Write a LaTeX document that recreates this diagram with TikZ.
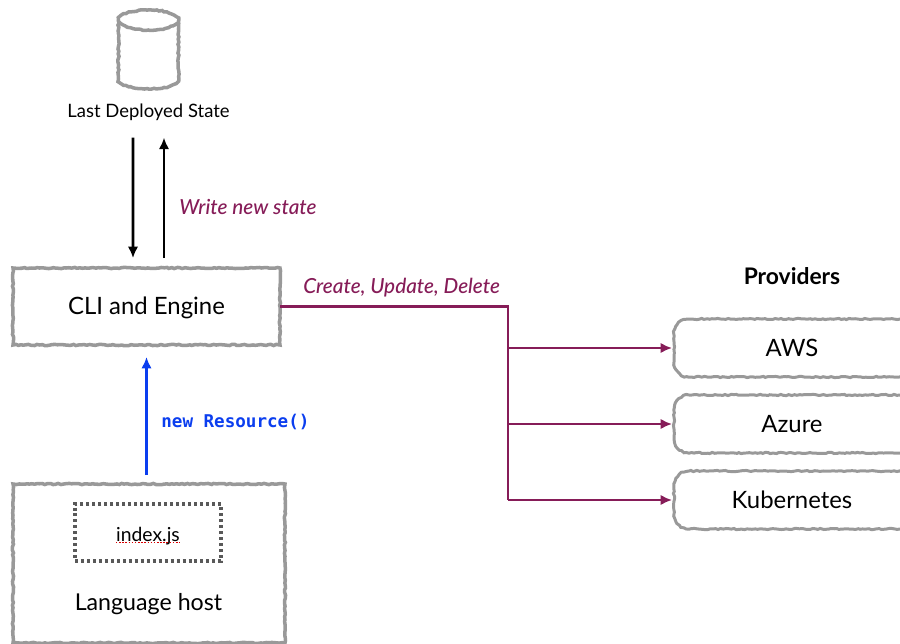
\documentclass[tikz,border=0pt]{standalone}
\usepackage{xcolor}
\usepackage{fontspec}
\setmainfont{Lato}
\setmonofont{DejaVu Sans Mono}
\newfontfamily\mediumfont{Lato Medium}
\usetikzlibrary{arrows.meta,decorations.pathmorphing}
\definecolor{plumline}{HTML}{861C58}
\definecolor{blueline}{HTML}{0B3EEF}
\tikzset{
  sketchy/.style={draw=black!40,line width=2pt,decorate,decoration={random steps,segment length=1.5pt,amplitude=.35pt},inner sep=0pt,outer sep=0pt},
  plainbox/.style={sketchy,text height=11.5pt,text depth=2.5pt,font=\fontsize{13.6}{15}\selectfont},
  dotbox/.style={draw=black!65,line width=2.3pt,dash pattern=on 1.7pt off 1.7pt,inner sep=0pt},
  provider/.style={inner sep=0pt,outer sep=0pt,minimum width=4.72cm,minimum height=1.16cm,font=\fontsize{13.6}{15}\selectfont},
  caption/.style={inner sep=0pt,font=\fontsize{13.2}{15}\selectfont},
  smallcaption/.style={inner sep=0pt,font=\fontsize{10.5}{12}\selectfont},
  plumtext/.style={inner sep=0pt,text=plumline,font=\fontsize{11.8}{14}\mediumfont\itshape},
  plumwire/.style={draw=plumline,line width=1.5pt},
  plumarrow/.style={plumwire,-{Latex[length=6.5pt,width=6pt]}},
  blackarrow/.style={black,line width=1.5pt,-{Latex[length=6.5pt,width=6pt]}},
  bluearrow/.style={draw=blueline,line width=1.5pt,-{Latex[length=6.5pt,width=6pt]}}
}
% outline of a provider, open on the right
\newcommand{\roughoutline}[1]{
  \draw[sketchy,line width=1.7pt] (#1.north east) -- ([xshift=.3cm]#1.north west) arc[start angle=90,end angle=180,radius=.3cm]
    -- ([yshift=.3cm]#1.south west) arc[start angle=180,end angle=270,radius=.3cm] -- (#1.south east);
}
\begin{document}
\begin{tikzpicture}
      \useasboundingbox (0,0) rectangle (18,12.86);
        % Cylinder
      \draw[sketchy] (2.37,12.46) arc[start angle=180,end angle=-180,x radius=.6,y radius=.2]
        -- (2.37,11.28) arc[start angle=180,end angle=360,x radius=.6,y radius=.2] -- (3.57,12.46);
      \node[smallcaption] (state) at (2.97,10.62) {Last Deployed State};
      \node[plainbox,minimum width=5.34cm,minimum height=1.54cm] (cli) at (2.93,6.73) {CLI and Engine};
      \node[sketchy,minimum width=5.44cm,minimum height=3.18cm] (host) at (2.98,1.59) {};
      \node[dotbox,minimum width=2.92cm,minimum height=1.14cm] (idx) at (2.96,2.21) {};
      \node[smallcaption,font=\fontsize{11}{13}\selectfont] (idxlabel) at (2.96,2.14) {index.js};
      \node[caption] (hostlabel) at (2.97,0.78) {Language host};
      \node[caption,font=\fontsize{13}{15}\selectfont\bfseries] (providers) at (15.84,7.34) {Providers};
      \node[provider] (aws) at (15.84,5.90) {AWS};
      \node[provider] (azure) at (15.84,4.38) {Azure};
      \node[provider] (kube) at (15.84,2.86) {Kubernetes};
      \roughoutline{aws}
      \roughoutline{azure}
      \roughoutline{kube}
      \coordinate (bus) at (10.16,6.73);
        % Labels on the arrows
      \node[plumtext,anchor=west] (writelabel) at (3.58,8.72) {Write new state};
      \node[plumtext,anchor=west] (crudlabel) at (6.06,7.10) {Create, Update, Delete};
      \node[inner sep=0pt,anchor=west,text=blueline,font=\fontsize{10}{12}\selectfont\ttfamily\bfseries] (newlabel) at (3.22,4.42) {new Resource()};
      \draw[blackarrow,shorten <=.34cm,shorten >=.2cm] ([xshift=-.31cm]state.south) -- ([xshift=-.27cm]cli.north);
      \draw[blackarrow,shorten <=.2cm,shorten >=.34cm] ([xshift=.35cm]cli.north) -- ([xshift=.31cm]state.south);
      \draw[bluearrow,shorten <=.18cm,shorten >=.24cm] (host.north -| cli.south) -- (cli.south);
      \draw[plumwire] (cli.east) -| (bus |- kube.west);
      \draw[plumarrow,shorten >=.04cm] (bus |- aws.west) -- (aws.west);
      \draw[plumarrow,shorten >=.04cm] (bus |- azure.west) -- (azure.west);
      \draw[plumarrow,shorten >=.04cm] (bus |- kube.west) -- (kube.west);
      \draw[red!85!black,line width=.9pt,dash pattern=on .9pt off .9pt] ([yshift=1.5pt]idxlabel.south west) -- ([yshift=1.5pt]idxlabel.south east);
    \end{tikzpicture}
\end{document}
